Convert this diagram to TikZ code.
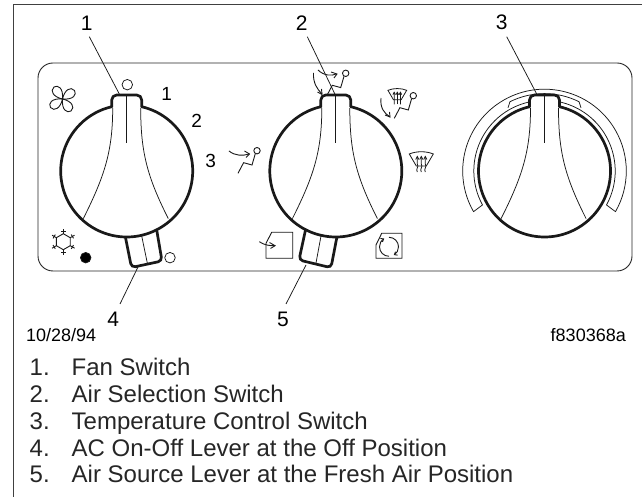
\documentclass[tikz,border=0pt]{standalone}
\usepackage{fontspec}
\setmainfont{Liberation Sans}
\usetikzlibrary{arrows.meta, positioning, calc}
\tikzset{
  thinline/.style={line width=0.75pt, color=black!90},
  iconline/.style={line width=0.9pt, color=black!90},
  knobline/.style={line width=2.7pt, color=black!90, fill=white, line join=round},
  leverline/.style={line width=2.7pt, color=black!90, fill=white, rounded corners=4pt},
  callout/.style={font=\fontsize{21}{21}\selectfont, inner sep=1pt},
  dial/.style={font=\fontsize{19}{19}\selectfont, inner sep=0pt},
  stamp/.style={font=\fontsize{18}{18}\selectfont, inner sep=0pt},
  item/.style={font=\fontsize{24}{24}\selectfont, color=black!85, inner sep=0pt, anchor=base west},
  dot/.style={circle, draw=black!90, line width=0.75pt, fill=white, inner sep=0pt, minimum size=10.5pt},
}
\newcommand{\personicon}[2]{
  \begin{scope}[shift={(#1,#2)}, iconline]
    \draw (0,0) circle (3.2);
    \draw (-1.7,-3) -- (-5,-14.3) -- (-13.4,-12) -- (-19,-22.6);
  \end{scope}
}
\newcommand{\defrosticon}[3]{
  \begin{scope}[shift={(#1,#2)}, scale=#3, iconline, line width=0.8pt]
    \draw (-12,6) .. controls (-5,9) and (5,9) .. (12,6) -- (5,-6) -- (-5,-6) -- cycle;
    \foreach \dx in {-4,0,4} {
      \draw (\dx,-12) .. controls (\dx-2,-9) and (\dx+2,-7) .. (\dx,-4) -- (\dx,3);
      \draw (\dx-1.6,0.5) -- (\dx,3.5) -- (\dx+1.6,0.5);
    }
  \end{scope}
}
\begin{document}
\begin{tikzpicture}[x=1pt, y=1pt]
  \useasboundingbox (0,0) rectangle (642,497);
  \fill[white] (0,0) rectangle (642,497);

  % page frame and panel
  \draw[line width=1.5pt, color=black!75] (13.7,0) -- (13.7,492.5) -- (642,492.5);
  \draw[line width=0.9pt, color=black!85, rounded corners=15pt] (38,226) rectangle (632,434);

  % levers
  \draw[leverline] (125,262) -- (131.5,229.5) -- (162,236) -- (156.7,267);
  \draw[thinline] (141.7,261) -- (147.3,234);
  \draw[leverline] (305.5,267) -- (299,237) -- (331,229.3) -- (337.5,263);
  \draw[thinline] (321,261) -- (316,234);

  % temperature scale
  \begin{scope}[shift={(544.5,326)}, thinline]
    \draw (209.8:81.8) arc[start angle=209.8, end angle=-29.8, radius=81.8]
      -- (-28.7:70.7) arc[start angle=-28.7, end angle=208.7, radius=70.7] -- cycle;
    \draw (120:73) -- (116.5:77.4) arc[start angle=116.5, end angle=63.5, radius=77.4] -- (60:73);
  \end{scope}

  % knobs
  \foreach \cx in {126.7,335.8,544.5} {
    \begin{scope}[shift={(\cx,326)}]
      \draw[knobline] (76.9:66) arc[start angle=76.9, end angle=-256.9, radius=66]
        -- (-15,64.3) [rounded corners=5pt] -- (-15,76) -- (15,76) [sharp corners] -- cycle;
      \draw[thinline] (0,76) -- (0,28);
      \draw[thinline] (-14,63) .. controls (-14,20) and (-22,-5) .. (-43.4,-47.6);
      \draw[thinline] (14,63) .. controls (14,20) and (20,-5) .. (41.6,-47.6);
    \end{scope}
  }

  % fan knob marks
  \node (off1) [dot] at (127.3,412.3) {};
  \node (off2) [dot] at (170,239.3) {};
  \node (acdot) [dot, fill=black] at (85.7,239.3) {};
  \node (speed1) [dial] at (166.7,402.7) {1};
  \node (speed2) [dial] at (196.7,376.3) {2};
  \node (speed3) [dial] at (210.7,336) {3};

  % fan symbol
  \begin{scope}[shift={(62.5,398)}, iconline]
    \foreach \ang in {0,90,180,270} {
      \draw[rotate=\ang] (0,0) .. controls (-9,2) and (-13,8) .. (-8.5,12)
        .. controls (-4.5,14.5) and (1,11) .. (0,0);
    }
  \end{scope}

  % snow symbol
  \begin{scope}[shift={(63.3,255.3)}, iconline]
    \draw (90:8) -- (150:8) -- (210:8) -- (270:8) -- (330:8) -- (30:8) -- cycle;
    \foreach \ang in {30,90,150,210,270,330} {
      \draw[rotate=\ang] (8,0) -- (13,0);
      \draw[rotate=\ang] (10.5,-2.2) -- (10.5,2.2);
    }
  \end{scope}

  % air symbols
  \personicon{345.7}{423.7}
  \draw[iconline] (318,427) .. controls (324,421) and (332,421) .. (336,423);
  \draw[iconline] (331,425) -- (337,423) -- (334,419);
  \draw[iconline] (313.5,424) .. controls (313,414) and (317,408) .. (322,403);
  \draw[iconline] (317.5,405) -- (322,402.5) -- (321.5,408);

  \personicon{413.3}{401.3}
  \draw[iconline] (381,399) .. controls (380,389) and (384,384) .. (390,380);
  \draw[iconline] (385,382) -- (390,380) -- (389.5,385);
  \defrosticon{397.3}{402}{0.78}

  \personicon{257}{346.3}
  \draw[iconline] (229,346) .. controls (235,341) and (243,341) .. (249,343);
  \draw[iconline] (244.5,346) -- (249.5,343) -- (246,339.5);

  \defrosticon{421.3}{337}{1}

  % source symbols
  \draw[iconline] (266,238.7) -- (292.7,238.7) -- (292.7,264.7) -- (271.7,264.7) -- (266,253.7) -- cycle;
  \draw[iconline] (259.3,255.3) .. controls (264,252) and (270,251) .. (275,251.3);
  \draw[iconline] (269.5,254.5) -- (275,251.3) -- (270.5,248.5);
  \draw[iconline] (376,238.7) -- (402,238.7) -- (402,263.7) -- (381.7,263.7) -- (376,252) -- cycle;
  \draw[iconline, -{Straight Barb[length=2.5pt,width=4pt]}] (389,240.7) arc[start angle=270, end angle=120, radius=9.5];
  \draw[iconline, -{Straight Barb[length=2.5pt,width=4pt]}] (389,259.7) arc[start angle=90, end angle=-60, radius=9.5];

  % callouts
  \node (lab1) [callout] at (86.7,473.7) {1};
  \node (lab2) [callout] at (301.7,473.7) {2};
  \node (lab3) [callout] at (501.7,474.3) {3};
  \node (lab4) [callout] at (113.3,177.5) {4};
  \node (lab5) [callout] at (283,177.5) {5};
  \coordinate (end1) at (89.3,460.3);
  \coordinate (end2) at (307.3,460.3);
  \coordinate (end3) at (506.7,460.3);
  \coordinate (end4) at (120,193);
  \coordinate (end5) at (286,193);
  \coordinate (tip1) at (119.3,403);
  \coordinate (tip2) at (335,402.7);
  \coordinate (tip3) at (536.7,403);
  \coordinate (tip4) at (138,230);
  \coordinate (tip5) at (306,232);
  \draw[thinline] (end1) -- (tip1);
  \draw[thinline] (end2) -- (tip2);
  \draw[thinline] (end3) -- (tip3);
  \draw[thinline] (end4) -- (tip4);
  \draw[thinline] (end5) -- (tip5);

  % date and figure number
  \node (date) [stamp, anchor=west] at (26,162) {10/28/94};
  \node (fig)  [stamp, anchor=east] at (626,162) {f830368a};

  % legend
  \foreach \i/\txt in {1/Fan Switch, 2/Air Selection Switch, 3/Temperature Control Switch,
      4/AC On-Off Lever at the Off Position, 5/Air Source Lever at the Fresh Air Position} {
    \node (num\i) [item] at (29.5,121-26.7*\i+26.7) {\i.};
    \node (txt\i) [item] at (71.5,121-26.7*\i+26.7) {\txt};
  }
\end{tikzpicture}
\end{document}
